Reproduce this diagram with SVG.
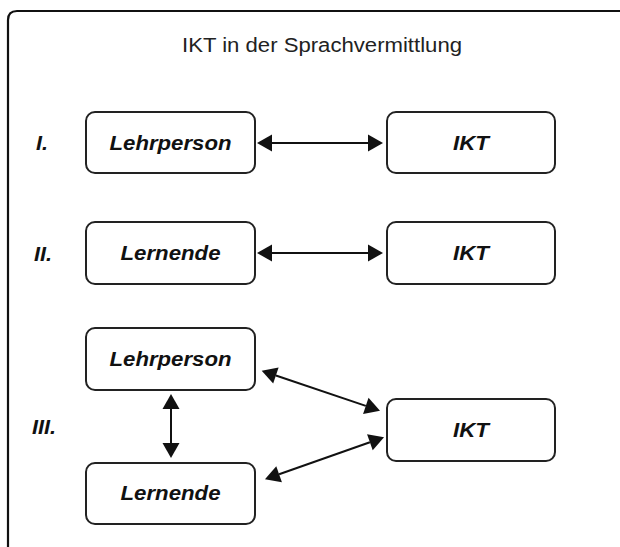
<svg xmlns="http://www.w3.org/2000/svg" width="620" height="547" viewBox="0 0 620 547">
  <style>
    .frame { fill: none; stroke: #111; stroke-width: 2.2; }
    .box { fill: #fff; stroke: #222; stroke-width: 2; }
    .lbl { font-family: "Liberation Sans", Arial, sans-serif; font-size: 20.5px; font-weight: bold; font-style: italic; fill: #111; }
    .title { font-family: "Liberation Sans", Arial, sans-serif; font-size: 20px; fill: #222; }
    .conn { stroke: #111; stroke-width: 2; fill: none; marker-start: url(#head); marker-end: url(#head); }
  </style>
  <defs>
    <marker id="head" markerUnits="userSpaceOnUse" markerWidth="17" markerHeight="17" refX="0" refY="8.5" viewBox="0 0 17 17" orient="auto-start-reverse" overflow="visible">
      <path d="M0,0 L15,8.5 L0,17 z" fill="#111"/>
    </marker>
  </defs>

  <rect width="620" height="547" fill="#fff"/>

  <!-- outer frame, open to the right and bottom -->
  <path class="frame" d="M8,560 L8,20 Q8,11 17,11 L640,11"/>

  <text class="title" x="322" y="52" text-anchor="middle" textLength="280" lengthAdjust="spacingAndGlyphs">IKT in der Sprachvermittlung</text>

  <!-- row labels -->
  <text class="lbl" x="36" y="150" textLength="12" lengthAdjust="spacingAndGlyphs">I.</text>
  <text class="lbl" x="34" y="261" textLength="18" lengthAdjust="spacingAndGlyphs">II.</text>
  <text class="lbl" x="32" y="434" textLength="24" lengthAdjust="spacingAndGlyphs">III.</text>

  <!-- row I -->
  <g id="lehrperson-1">
    <rect class="box" x="86" y="112" width="169" height="61" rx="9"/>
    <text class="lbl" x="170.5" y="150" text-anchor="middle" textLength="122" lengthAdjust="spacingAndGlyphs">Lehrperson</text>
  </g>
  <g id="ikt-1">
    <rect class="box" x="387" y="112" width="168" height="61" rx="9"/>
    <text class="lbl" x="471" y="150" text-anchor="middle" textLength="36" lengthAdjust="spacingAndGlyphs">IKT</text>
  </g>

  <!-- row II -->
  <g id="lernende-2">
    <rect class="box" x="86" y="222" width="169" height="62" rx="9"/>
    <text class="lbl" x="170.5" y="260" text-anchor="middle" textLength="100" lengthAdjust="spacingAndGlyphs">Lernende</text>
  </g>
  <g id="ikt-2">
    <rect class="box" x="387" y="222" width="168" height="62" rx="9"/>
    <text class="lbl" x="471" y="260" text-anchor="middle" textLength="36" lengthAdjust="spacingAndGlyphs">IKT</text>
  </g>

  <!-- row III -->
  <g id="lehrperson-3">
    <rect class="box" x="86" y="328" width="169" height="62" rx="9"/>
    <text class="lbl" x="170.5" y="366" text-anchor="middle" textLength="122" lengthAdjust="spacingAndGlyphs">Lehrperson</text>
  </g>
  <g id="lernende-3">
    <rect class="box" x="86" y="463" width="169" height="61" rx="9"/>
    <text class="lbl" x="170.5" y="500" text-anchor="middle" textLength="100" lengthAdjust="spacingAndGlyphs">Lernende</text>
  </g>
  <g id="ikt-3">
    <rect class="box" x="387" y="399" width="168" height="62" rx="9"/>
    <text class="lbl" x="471" y="437" text-anchor="middle" textLength="36" lengthAdjust="spacingAndGlyphs">IKT</text>
  </g>

  <!-- connectors (double-headed) -->
  <g id="connectors">
    <line class="conn" x1="272" y1="143" x2="368" y2="143"/>
    <line class="conn" x1="272" y1="253" x2="368" y2="253"/>
    <line class="conn" x1="171" y1="409" x2="171" y2="443"/>
    <line class="conn" x1="275.9" y1="375.5" x2="365.8" y2="405.9"/>
    <line class="conn" x1="279.1" y1="474.3" x2="369.9" y2="442.3"/>
  </g>
</svg>
